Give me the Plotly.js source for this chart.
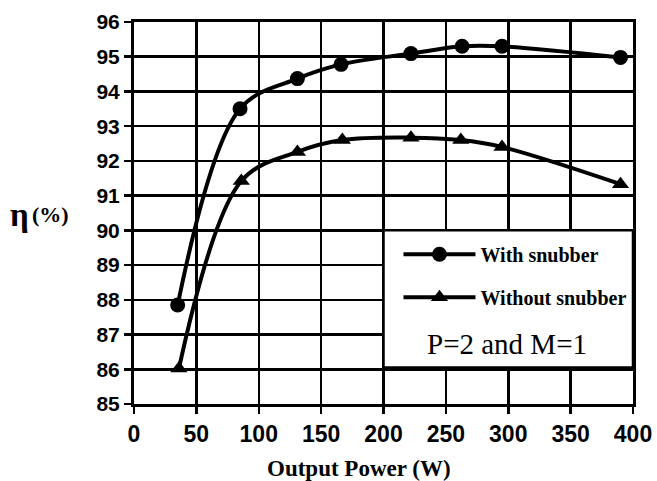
<!DOCTYPE html>
<html>
<head>
<meta charset="utf-8">
<script src="https://cdn.plot.ly/plotly-3.0.1.min.js"></script>
<style>html,body{margin:0;padding:0;background:#fff;}#chart{width:657px;height:481px;}</style>
</head>
<body>
<div id="chart"></div>
<script>
const powerWith = [35, 85, 131, 166, 222, 263, 295, 390];
const effWith = [87.85, 93.5, 94.37, 94.78, 95.09, 95.3, 95.3, 94.98];
const powerWithout = [36, 86, 131, 167, 222, 262, 295, 390];
const effWithout = [86.02, 91.42, 92.26, 92.6, 92.67, 92.6, 92.4, 91.33];
const seriesNames = ['With snubber', 'Without snubber'];
const xTicks = [0, 50, 100, 150, 200, 250, 300, 350, 400];
const yTicks = [85, 86, 87, 88, 89, 90, 91, 92, 93, 94, 95, 96];

const traces = [
  {x: powerWith, y: effWith, name: seriesNames[0], mode: 'lines+markers', legendgroup: 'a',
   line: {color: '#000', width: 4, shape: 'spline', smoothing: 1},
   marker: {symbol: 'circle', size: 15, color: '#000'}},
  {x: powerWithout, y: effWithout, name: seriesNames[1], mode: 'lines+markers', legendgroup: 'b',
   line: {color: '#000', width: 4, shape: 'spline', smoothing: 1},
   marker: {symbol: 'triangle-up', size: 15, color: '#000'}}
];

const axisCommon = {
  showline: true, linecolor: '#000', linewidth: 3, mirror: true,
  showgrid: true, gridcolor: '#000', gridwidth: 2.5,
  ticks: 'outside', ticklen: 7, tickwidth: 2.5, tickcolor: '#000',
  zeroline: false
};
const tickFontX = {family: 'Liberation Sans, Arial, sans-serif', size: 23, color: '#000', weight: 'bold'};
const tickFontY = {family: 'Liberation Sans, Arial, sans-serif', size: 21, color: '#000', weight: 'bold'};
const serif = 'Liberation Serif, Times New Roman, serif';

const layout = {
  width: 657, height: 481,
  margin: {l: 134, r: 24, t: 22, b: 77},
  paper_bgcolor: '#fff', plot_bgcolor: '#fff',
  xaxis: Object.assign({}, axisCommon, {range: [0, 400], tickvals: xTicks, ticktext: xTicks.map(String), tickfont: tickFontX}),
  yaxis: Object.assign({}, axisCommon, {range: [85, 96], tickvals: yTicks, ticktext: yTicks.map(String), tickfont: tickFontY}),
  showlegend: true,
  legend: {x: 0.53, y: 0.443, xanchor: 'left', yanchor: 'top', bgcolor: 'rgba(0,0,0,0)',
           borderwidth: 0, tracegroupgap: 14, traceorder: 'grouped', itemwidth: 72,
           font: {family: serif, size: 20, color: '#000', weight: 'bold'}},
  shapes: [
    {type: 'rect', xref: 'x', yref: 'y', x0: 200, x1: 400, y0: 86.05, y1: 90,
     fillcolor: '#fff', line: {color: '#000', width: 2.5}, layer: 'above'}
  ],
  annotations: [
    {text: 'P=2 and M=1', xref: 'paper', yref: 'paper', x: 0.747, y: 0.157, xanchor: 'center', yanchor: 'middle', showarrow: false,
     font: {family: serif, size: 29, color: '#000'}},
    {text: 'Output Power (W)', xref: 'paper', yref: 'paper', x: 0.45, y: -0.168, xanchor: 'center', yanchor: 'middle', showarrow: false,
     font: {family: serif, size: 23, color: '#000', weight: 'bold'}},
    {text: 'η', xref: 'paper', yref: 'paper', x: -0.2525, y: 0.495, xanchor: 'left', yanchor: 'middle', showarrow: false,
     font: {family: serif, size: 33, color: '#000', weight: 'bold'}},
    {text: '(%)', xref: 'paper', yref: 'paper', x: -0.2084, y: 0.495, xanchor: 'left', yanchor: 'middle', showarrow: false,
     font: {family: serif, size: 22, color: '#000', weight: 'bold'}}
  ]
};

Plotly.newPlot('chart', traces, layout, {displayModeBar: false, staticPlot: true});
</script>
</body>
</html>
